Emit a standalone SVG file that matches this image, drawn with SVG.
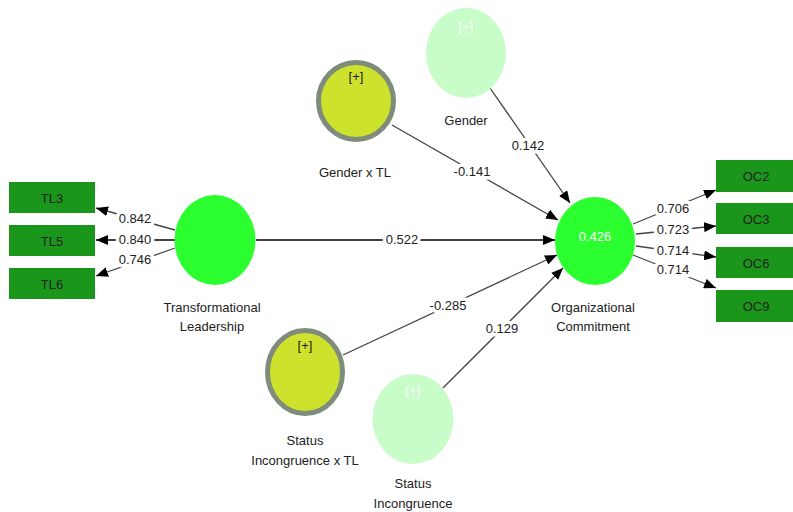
<svg xmlns="http://www.w3.org/2000/svg" width="793" height="512" viewBox="0 0 793 512">
<style>
text{font-family:"Liberation Sans",Arial,sans-serif;font-size:13px;fill:#222;text-anchor:middle;dominant-baseline:central}
.lbl{paint-order:stroke;stroke:#fff;stroke-width:7px;stroke-linejoin:round}
.ln{stroke:#444;stroke-width:1.3;fill:none;marker-end:url(#ah)}
.ind{fill:#1a961a}
.lv{fill:#2bff2f}
.ext{fill:#c8fcc8}
.int{fill:#cde22c;stroke:#7f8c7b;stroke-width:5}
</style>
<defs>
<marker id="ah" markerUnits="userSpaceOnUse" markerWidth="12" markerHeight="10" refX="12" refY="5" orient="auto">
<path d="M0,0 L12,5 L0,10 Z" fill="#000"/>
</marker>
</defs>
<rect width="793" height="512" fill="#fff"/>
<g id="connectors">
<line class="ln" x1="175" y1="230" x2="96" y2="208"/>
<line class="ln" x1="175" y1="240" x2="96" y2="240" style="stroke:#000"/>
<line class="ln" x1="175" y1="248" x2="96" y2="276"/>
<line class="ln" x1="256" y1="240" x2="555" y2="240" style="stroke:#000"/>
<line class="ln" x1="490" y1="88" x2="570" y2="203"/>
<line class="ln" x1="392" y1="125" x2="558" y2="220"/>
<line class="ln" x1="343" y1="355" x2="557" y2="255"/>
<line class="ln" x1="443" y1="388" x2="563" y2="268"/>
<line class="ln" x1="633" y1="224" x2="716" y2="190"/>
<line class="ln" x1="636" y1="234" x2="716" y2="226"/>
<line class="ln" x1="636" y1="246" x2="716" y2="257"/>
<line class="ln" x1="633" y1="255" x2="716" y2="288"/>
<text class="lbl" x="135" y="218">0.842</text>
<text class="lbl" x="135" y="239">0.840</text>
<text class="lbl" x="135" y="259">0.746</text>
<text class="lbl" x="402" y="239">0.522</text>
<text class="lbl" x="528" y="145">0.142</text>
<text class="lbl" x="472" y="171">-0.141</text>
<text class="lbl" x="448" y="305">-0.285</text>
<text class="lbl" x="502" y="328">0.129</text>
<text class="lbl" x="673" y="208">0.706</text>
<text class="lbl" x="673" y="229">0.723</text>
<text class="lbl" x="673" y="250">0.714</text>
<text class="lbl" x="673" y="269">0.714</text>
</g>
<g id="TL3"><rect class="ind" x="9" y="182" width="86" height="31"/><text x="52" y="198">TL3</text></g>
<g id="TL5"><rect class="ind" x="9" y="225" width="86" height="31"/><text x="52" y="241">TL5</text></g>
<g id="TL6"><rect class="ind" x="9" y="268" width="86" height="31"/><text x="52" y="284">TL6</text></g>
<g id="OC2"><rect class="ind" x="716" y="160" width="77" height="32"/><text x="756" y="176">OC2</text></g>
<g id="OC3"><rect class="ind" x="716" y="203" width="77" height="31"/><text x="756" y="219">OC3</text></g>
<g id="OC6"><rect class="ind" x="716" y="247" width="77" height="31"/><text x="756" y="263">OC6</text></g>
<g id="OC9"><rect class="ind" x="716" y="290" width="77" height="32"/><text x="756" y="306">OC9</text></g>
<g id="TL">
<ellipse class="lv" cx="215" cy="240" rx="40.5" ry="45"/>
<text x="212" y="307">Transformational</text>
<text x="212" y="326">Leadership</text>
</g>
<g id="OC">
<ellipse class="lv" cx="595" cy="241" rx="40" ry="44"/>
<text x="595" y="236" style="fill:#fff">0.426</text>
<text x="593" y="307">Organizational</text>
<text x="593" y="326">Commitment</text>
</g>
<g id="Gender">
<ellipse class="ext" cx="466" cy="53" rx="40" ry="45"/>
<text x="466" y="26" style="fill:#fff">[+]</text>
<text x="466" y="120">Gender</text>
</g>
<g id="GenderxTL">
<ellipse class="int" cx="356" cy="101" rx="37.5" ry="38.5"/>
<text x="356" y="76">[+]</text>
<text x="355" y="172">Gender x TL</text>
</g>
<g id="StatusxTL">
<ellipse class="int" cx="305" cy="372" rx="37.5" ry="41.5"/>
<text x="305" y="345">[+]</text>
<text x="305" y="440">Status</text>
<text x="305" y="460">Incongruence x TL</text>
</g>
<g id="Status">
<ellipse class="ext" cx="413" cy="419" rx="40.5" ry="45"/>
<text x="413" y="390" style="fill:#fff">[+]</text>
<text x="413" y="483">Status</text>
<text x="413" y="503">Incongruence</text>
</g>
</svg>
